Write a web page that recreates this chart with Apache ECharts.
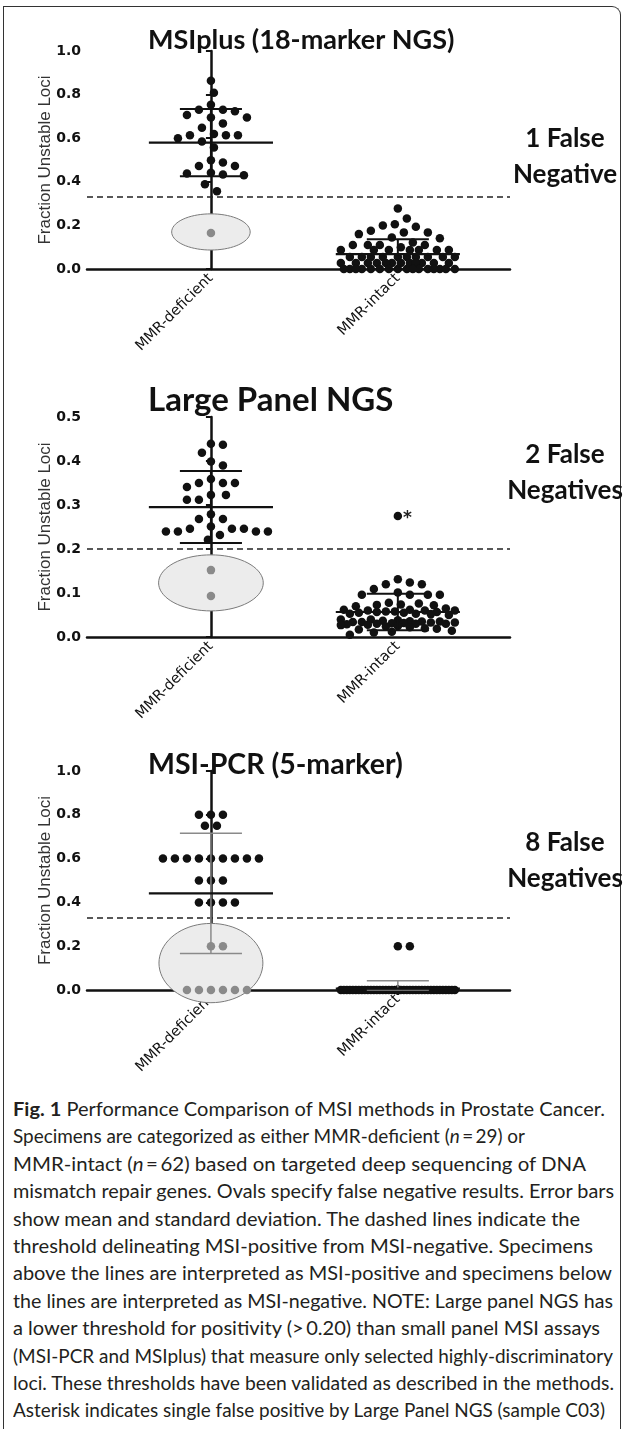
<!DOCTYPE html>
<html><head><meta charset="utf-8">
<script src="https://cdn.jsdelivr.net/npm/echarts@6/dist/echarts.min.js"></script>
<style>
html,body{margin:0;padding:0;background:#fff;}
#frame{position:absolute;left:3px;top:6px;width:618px;height:1440px;border:1.5px solid #333;border-bottom:none;border-top-right-radius:9px;box-sizing:border-box;}
#chart{position:absolute;left:0;top:0;width:627px;height:1096px;}
#caption{position:absolute;left:13px;top:1096px;font-family:Lato,'Open Sans',sans-serif;font-size:18.5px;line-height:27.4px;color:#231f20;white-space:nowrap;}
#caption .ln{display:block;height:27.4px;}
#caption .ln span{display:inline-block;transform-origin:0 50%;}
</style></head>
<body>
<div id="frame"></div>
<div id="chart"></div>
<div id="caption">
<div class="ln" data-w="592"><span><b>Fig. 1</b> Performance Comparison of MSI methods in Prostate Cancer.</span></div>
<div class="ln" data-w="512"><span>Specimens are categorized as either MMR-deficient (<i>n</i>&#8201;=&#8201;29) or</span></div>
<div class="ln" data-w="573"><span>MMR-intact (<i>n</i>&#8201;=&#8201;62) based on targeted deep sequencing of DNA</span></div>
<div class="ln" data-w="601"><span>mismatch repair genes. Ovals specify false negative results. Error bars</span></div>
<div class="ln" data-w="567"><span>show mean and standard deviation. The dashed lines indicate the</span></div>
<div class="ln" data-w="580"><span>threshold delineating MSI-positive from MSI-negative. Specimens</span></div>
<div class="ln" data-w="599"><span>above the lines are interpreted as MSI-positive and specimens below</span></div>
<div class="ln" data-w="600"><span>the lines are interpreted as MSI-negative. NOTE: Large panel NGS has</span></div>
<div class="ln" data-w="587"><span>a lower threshold for positivity (&gt;&#8201;0.20) than small panel MSI assays</span></div>
<div class="ln" data-w="600"><span>(MSI-PCR and MSIplus) that measure only selected highly-discriminatory</span></div>
<div class="ln" data-w="601"><span>loci. These thresholds have been validated as described in the methods.</span></div>
<div class="ln" data-w="592"><span>Asterisk indicates single false positive by Large Panel NGS (sample C03)</span></div>
</div>
<script>
// ---------------- data ----------------
const categories = ['MMR-deficient', 'MMR-intact'];
const panelTitles = ['MSIplus (18-marker NGS)', 'Large Panel NGS', 'MSI-PCR (5-marker)'];
const thresholds = [0.33, 0.20, 0.33];
const yMaxes = [1.0, 0.5, 1.0];
const yIntervals = [0.2, 0.1, 0.2];
const notes = ['1 False\nNegative', '2 False\nNegatives', '8 False\nNegatives'];

const msiplusDeficient = [0.864, 0.809, 0.753, 0.730, 0.724, 0.730, 0.695, 0.706, 0.695, 0.668,
  0.648, 0.613, 0.613, 0.613, 0.619, 0.585, 0.600, 0.557, 0.499, 0.489, 0.473, 0.473,
  0.438, 0.430, 0.433, 0.441, 0.389, 0.357, 0.165];
const msiplusIntact = [0.278, 0.232, 0.200, 0.205, 0.194, 0.176, 0.168, 0.160, 0.168, 0.141,
  0.145, 0.122, 0.110, 0.110, 0.100, 0.110, 0.110, 0.087, 0.087, 0.087, 0.087, 0.087, 0.087, 0.087,
  0.055, 0.055, 0.055, 0.055, 0.055, 0.055, 0.055, 0.055, 0.055, 0.055,
  0.028, 0.028, 0.028, 0.028, 0.028, 0.028, 0.028, 0.028, 0.028, 0.028, 0.028, 0.028,
  0, 0, 0, 0, 0, 0, 0, 0, 0, 0, 0, 0, 0, 0, 0, 0];
const largeDeficient = [0.437, 0.439, 0.419, 0.390, 0.399, 0.359, 0.341, 0.350, 0.350, 0.350,
  0.323, 0.312, 0.312, 0.323, 0.279, 0.268, 0.268, 0.246, 0.246, 0.240, 0.240, 0.251, 0.232,
  0.240, 0.240, 0.246, 0.221, 0.152, 0.093];
const largeIntact = [0.275, 0.131, 0.120, 0.120, 0.124, 0.109, 0.101, 0.096, 0.096, 0.096, 0.096,
  0.074, 0.073, 0.070, 0.072, 0.076, 0.078,
  0.065, 0.062, 0.062, 0.060, 0.060, 0.060, 0.058, 0.058, 0.057, 0.057, 0.055, 0.055, 0.053, 0.053, 0.052, 0.050,
  0.040, 0.040, 0.038, 0.037, 0.036, 0.035, 0.035, 0.034, 0.034, 0.033, 0.033, 0.032, 0.031,
  0.030, 0.030, 0.030, 0.029, 0.028, 0.027, 0.025, 0.024, 0.022, 0.020, 0.019, 0.017,
  0.014, 0.012, 0.010, 0.005];
const pcrDeficient = [0.8, 0.8, 0.8, 0.75, 0.75, 0.6, 0.6, 0.6, 0.6, 0.6, 0.6, 0.6, 0.6, 0.6,
  0.5, 0.5, 0.5, 0.4, 0.4, 0.4, 0.4, 0.2, 0.2, 0, 0, 0, 0, 0, 0];
const pcrIntact = [0.2, 0.2, 0, 0, 0, 0, 0, 0, 0, 0, 0, 0, 0, 0, 0, 0, 0, 0, 0, 0, 0, 0,
  0, 0, 0, 0, 0, 0, 0, 0, 0, 0, 0, 0, 0, 0, 0, 0, 0, 0, 0, 0, 0, 0, 0, 0, 0, 0, 0, 0, 0, 0,
  0, 0, 0, 0, 0, 0, 0, 0, 0, 0];

// ---------------- layout / style ----------------
const X_MIN = -0.663, X_MAX = 1.6, GRID_LEFT = 87, GRID_W = 423;
const layout = [
  {top: 51, height: 218, titleTop: 22, titleSize: 27, noteY: 157, oval: {y: 0.17, ry: 0.083, rx: 0.21}, sdColor: '#111', sdWidth: 2},
  {top: 417, height: 220, titleTop: 379, titleSize: 33, noteY: 473, oval: {y: 0.123, ry: 0.0637, rx: 0.28}, sdColor: '#111', sdWidth: 2},
  {top: 771, height: 219, titleTop: 745, titleSize: 28.5, noteY: 861, oval: {y: 0.123, ry: 0.181, rx: 0.278}, sdColor: '#8a8a8a', sdWidth: 1.5}
];
const groups = [[msiplusDeficient, msiplusIntact], [largeDeficient, largeIntact], [pcrDeficient, pcrIntact]];
const DOT = 8.5;

function stats(a) {
  const m = a.reduce((s, v) => s + v, 0) / a.length;
  const v = a.reduce((s, x) => s + (x - m) * (x - m), 0) / (a.length - 1);
  return [m, Math.sqrt(v)];
}
// beeswarm layout in pixel space (collision avoidance), returns pixel offsets
function swarm(vals, pxPerY, step, dist, maxOff) {
  const idx = vals.map((v, i) => i).sort((a, b) => vals[b] - vals[a]);
  const cands = [0];
  for (let k = 1; k * step <= maxOff + 0.01; k++) cands.push(k * step, -k * step);
  const placed = [], off = new Array(vals.length);
  for (const i of idx) {
    const y = vals[i] * pxPerY;
    let best = 0, bestScore = -Infinity;
    for (const c of cands) {
      let minD = Infinity;
      for (const p of placed) { const d = Math.hypot(p.x - c, p.y - y); if (d < minD) minD = d; }
      if (minD >= dist) { best = c; break; }
      if (minD > bestScore + 0.5) { bestScore = minD; best = c; }
    }
    off[i] = best; placed.push({x: best, y: y});
  }
  return off;
}

const xPx = GRID_W / (X_MAX - X_MIN);
const option = {animation: false, grid: [], xAxis: [], yAxis: [], series: [], title: [], graphic: []};

groups.forEach((g, p) => {
  const L = layout[p];
  const yPx = L.height / yMaxes[p];
  option.grid.push({left: GRID_LEFT, width: GRID_W, top: L.top, height: L.height, outerBoundsMode: 'none', containLabel: false});
  option.xAxis.push({
    gridIndex: p, type: 'value', min: X_MIN, max: X_MAX,
    axisLine: {show: true, onZero: false, lineStyle: {color: '#111', width: 2.5}},
    axisTick: {show: false}, splitLine: {show: false},
    axisLabel: {customValues: [0, 1], formatter: v => categories[Math.round(v)], rotate: 45, margin: 7,
      fontFamily: 'DejaVu Sans', fontSize: 14.5, color: '#111'}
  });
  option.yAxis.push({
    gridIndex: p, type: 'value', min: 0, max: yMaxes[p], interval: yIntervals[p],
    axisLine: {show: true, lineStyle: {color: '#111', width: 2.5}},
    axisTick: {show: true, length: 5, lineStyle: {color: '#111', width: 2}},
    axisLabel: {formatter: v => v.toFixed(1), fontFamily: 'DejaVu Sans', fontWeight: 'bold', fontSize: 14, color: '#111', margin: 6},
    splitLine: {show: false},
    name: 'Fraction Unstable Loci', nameLocation: 'middle', nameGap: 33, nameMoveOverlap: false,
    nameTextStyle: {fontFamily: 'Liberation Sans', fontSize: 17, color: '#333'}
  });
  option.title.push({text: panelTitles[p], left: 143, top: L.titleTop,
    textStyle: {fontFamily: 'Lato', fontWeight: 'bold', fontSize: L.titleSize, color: '#111'}});
  option.graphic.push({type: 'text', x: 565, y: L.noteY,
    style: {text: notes[p], fill: '#111', font: 'bold 26px Lato', textAlign: 'center', textVerticalAlign: 'middle', lineHeight: 36}});

  // oval around false negatives
  option.series.push({
    type: 'custom', xAxisIndex: p, yAxisIndex: p, z: 1, silent: true,
    data: [[0, L.oval.y]],
    renderItem: (params, api) => {
      const c = api.coord([api.value(0), api.value(1)]);
      const rx = api.size([L.oval.rx, 0])[0], ry = api.size([0, L.oval.ry])[1];
      const pts = [];
      for (let k = 0; k < 72; k++) { const t = k / 72 * Math.PI * 2; pts.push([c[0] + rx * Math.cos(t), c[1] + ry * Math.sin(t)]); }
      return {type: 'polygon', shape: {points: pts}, style: {fill: '#ececec', stroke: '#7a7a7a', lineWidth: 1}};
    }
  });

  const black = [], gray = [];
  g.forEach((vals, ci) => {
    const offs = swarm(vals, yPx, 3, 12, 57);
    vals.forEach((v, i) => {
      const pt = [ci + offs[i] / xPx, v];
      if (ci === 0 && v < thresholds[p]) gray.push(pt);
      else if (ci === 1 && v > thresholds[p]) black.push({value: pt, label: {show: true, formatter: '*', position: 'right', distance: 1,
        fontFamily: 'DejaVu Sans', fontWeight: 'bold', fontSize: 17, color: '#222', offset: [0, 3]}});
      else black.push(pt);
    });
  });
  option.series.push({
    type: 'scatter', xAxisIndex: p, yAxisIndex: p, z: 3, symbolSize: DOT, data: black,
    itemStyle: {color: '#111', opacity: 1},
    markLine: {silent: true, symbol: ['none', 'none'], label: {show: false},
      lineStyle: {type: [6, 4], color: '#222', width: 1.5}, data: [{yAxis: thresholds[p]}]}
  });
  option.series.push({type: 'scatter', xAxisIndex: p, yAxisIndex: p, z: 3, symbolSize: DOT, data: gray,
    itemStyle: {color: '#8a8a8a', opacity: 1}});

  // mean and SD error bars
  const eb = g.map((vals, ci) => { const s = stats(vals); return [ci, s[0], s[1]]; });
  option.series.push({
    type: 'custom', xAxisIndex: p, yAxisIndex: p, z: 5, silent: true, data: eb,
    renderItem: (params, api) => {
      const c = api.value(0), m = api.value(1), s = api.value(2);
      const lo = Math.max(0, m - s), hi = m + s;
      const P = (x, y) => api.coord([x, y]);
      const seg = (a, b, color, w) => ({type: 'line', shape: {x1: a[0], y1: a[1], x2: b[0], y2: b[1]}, style: {stroke: color, lineWidth: w}});
      return {type: 'group', children: [
        seg(P(c, lo), P(c, hi), L.sdColor, L.sdWidth),
        seg(P(c - 0.166, hi), P(c + 0.166, hi), L.sdColor, L.sdWidth),
        seg(P(c - 0.166, lo), P(c + 0.166, lo), L.sdColor, L.sdWidth),
        seg(P(c - 0.332, m), P(c + 0.332, m), '#111', 2.2)
      ]};
    }
  });
});

const chart = echarts.init(document.getElementById('chart'), null, {renderer: 'canvas'});
chart.setOption(option);

// fit each caption line to its width in the reference
document.querySelectorAll('#caption .ln').forEach(ln => {
  const sp = ln.firstElementChild;
  const w = sp.getBoundingClientRect().width;
  sp.style.transform = 'scaleX(' + (parseFloat(ln.dataset.w) / w).toFixed(4) + ')';
});
</script>
</body></html>
